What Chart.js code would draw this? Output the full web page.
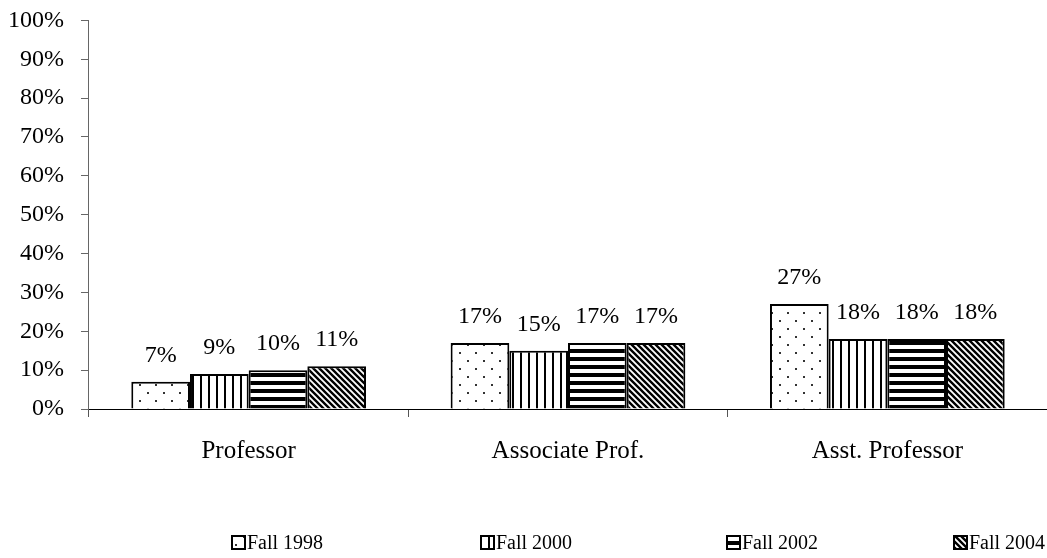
<!DOCTYPE html>
<html>
<head>
<meta charset="utf-8">
<script src="https://cdn.jsdelivr.net/npm/chart.js@4/dist/chart.umd.min.js"></script>
<style>
  body { margin: 0; background: #fff; overflow: hidden; }
  #wrap { position: relative; top: -11px; width: 1047px; height: 569px; }
</style>
</head>
<body>
<div id="wrap"><canvas id="rankChart"></canvas></div>
<script>
// categories and series (percent)
var categories = ['Professor', 'Associate Prof.', 'Asst. Professor'];
var seriesNames = ['Fall 1998', 'Fall 2000', 'Fall 2002', 'Fall 2004'];
var fall1998 = [7, 17, 27];
var fall2000 = [9, 15, 18];
var fall2002 = [10, 17, 18];
var fall2004 = [11, 17, 18];
var yTicks = [0, 10, 20, 30, 40, 50, 60, 70, 80, 90, 100];

var serif = '"Liberation Serif", "Times New Roman", Times, serif';

// build the hatch fills
function makePattern(kind) {
  var c = document.createElement('canvas');
  var g = c.getContext('2d');
  if (kind === 'dots') {
    c.width = 16; c.height = 16;
    g.fillStyle = '#fff'; g.fillRect(0, 0, 16, 16);
    g.fillStyle = '#333';
    g.fillRect(3, 3, 2, 2);
    g.fillRect(11, 11, 2, 2);
  } else if (kind === 'vert') {
    c.width = 8; c.height = 8;
    g.fillStyle = '#fff'; g.fillRect(0, 0, 8, 8);
    g.fillStyle = '#000';
    g.fillRect(0, 0, 2, 8);
  } else if (kind === 'horiz') {
    c.width = 8; c.height = 8;
    g.fillStyle = '#fff'; g.fillRect(0, 0, 8, 8);
    g.fillStyle = '#000';
    g.fillRect(0, 0, 8, 4);
  } else {
    // diagonal, top-left to bottom-right
    c.width = 6; c.height = 6;
    g.fillStyle = '#fff'; g.fillRect(0, 0, 6, 6);
    g.strokeStyle = '#000';
    g.lineWidth = 2.4;
    g.beginPath();
    g.moveTo(-3, -3); g.lineTo(9, 9);
    g.moveTo(-3, 3); g.lineTo(3, 9);
    g.moveTo(3, -3); g.lineTo(9, 3);
    g.stroke();
  }
  return document.getElementById('rankChart').getContext('2d').createPattern(c, 'repeat');
}

var fills = [makePattern('dots'), makePattern('vert'), makePattern('horiz'), makePattern('diag')];
var values = [fall1998, fall2000, fall2002, fall2004];

var datasets = seriesNames.map(function (name, i) {
  return {
    label: name,
    data: values[i],
    backgroundColor: fills[i],
    borderColor: '#000',
    borderWidth: 2,
    borderSkipped: 'bottom',
    barPercentage: 1,
    categoryPercentage: 0.735
  };
});

// value labels above each bar
var valueLabels = {
  id: 'valueLabels',
  afterDatasetsDraw: function (chart) {
    var ctx = chart.ctx;
    ctx.save();
    ctx.font = '24px ' + serif;
    ctx.fillStyle = '#000';
    ctx.textAlign = 'center';
    ctx.textBaseline = 'alphabetic';
    chart.data.datasets.forEach(function (ds, i) {
      chart.getDatasetMeta(i).data.forEach(function (bar, j) {
        ctx.fillText(ds.data[j] + '%', bar.x, bar.y - 20);
      });
    });
    ctx.restore();
  }
};

// legend laid out like the original (fixed columns along the bottom)
var boxLegend = {
  id: 'boxLegend',
  afterDraw: function (chart) {
    var ctx = chart.ctx;
    var cols = [232, 481, 727, 954];
    var y = 554;
    ctx.save();
    ctx.font = '20px ' + serif;
    ctx.textBaseline = 'middle';
    ctx.textAlign = 'left';
    chart.data.datasets.forEach(function (ds, i) {
      var x = cols[i];
      ctx.fillStyle = ds.backgroundColor;
      ctx.fillRect(x, y - 7, 13, 13);
      ctx.strokeStyle = '#000';
      ctx.lineWidth = 2;
      ctx.strokeRect(x, y - 7, 13, 13);
      ctx.fillStyle = '#000';
      ctx.fillText(ds.label, x + 15, y + 1);
    });
    ctx.restore();
  }
};

var ctx = document.getElementById('rankChart').getContext('2d');
var myChart = new Chart(ctx, {
  type: 'bar',
  data: { labels: categories, datasets: datasets },
  plugins: [valueLabels, boxLegend],
  options: {
    responsive: true,
    maintainAspectRatio: false,
    animation: false,
    layout: { padding: { top: 0, right: 0, left: -9, bottom: 73 } },
    plugins: {
      tooltip: { enabled: false },
      legend: { display: false }
    },
    scales: {
      x: {
        grid: {
          display: true,
          drawOnChartArea: false,
          tickLength: 8,
          color: '#555'
        },
        border: { color: '#000', width: 1 },
        ticks: {
          font: { family: serif, size: 25 },
          color: '#000',
          padding: 19
        }
      },
      y: {
        min: 0,
        max: 100,
        afterBuildTicks: function (axis) {
          axis.ticks = yTicks.map(function (v) { return { value: v }; });
        },
        grid: {
          display: true,
          drawOnChartArea: false,
          tickLength: 8,
          color: '#666'
        },
        border: { color: '#666', width: 1 },
        ticks: {
          autoSkip: false,
          font: { family: serif, size: 24 },
          color: '#000',
          padding: 17,
          callback: function (v) { return v + '%'; }
        }
      }
    }
  }
});
</script>
</body>
</html>
